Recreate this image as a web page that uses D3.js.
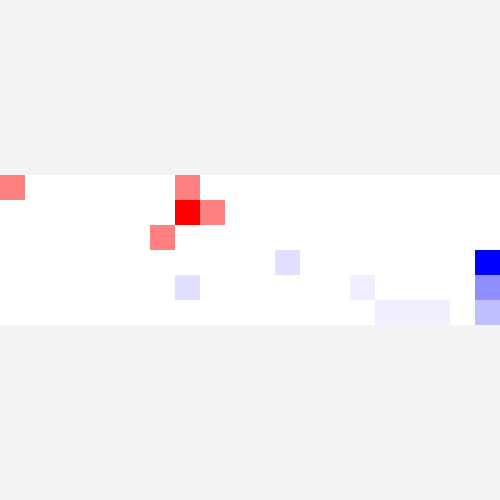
<!DOCTYPE html>
<html>
<head>
<meta charset="utf-8">
<script src="https://cdn.jsdelivr.net/npm/d3@7"></script>
<style>
html, body { margin: 0; padding: 0; background: #f3f3f3; }
svg { display: block; }
</style>
</head>
<body>
<svg id="chart" width="500" height="500"></svg>
<script>
const columns = d3.range(20).map(i => "c" + i);
const rows = ["r0", "r1", "r2", "r3", "r4", "r5"];
const row0 = [1,0,0,0,0,0,0,1,0,0,0,0,0,0,0,0,0,0,0,0];
const row1 = [0,0,0,0,0,0,0,2,1,0,0,0,0,0,0,0,0,0,0,0];
const row2 = [0,0,0,0,0,0,1,0,0,0,0,0,0,0,0,0,0,0,0,0];
const row3 = [0,0,0,0,0,0,0,0,0,0,0,-2,0,0,0,0,0,0,0,-16];
const row4 = [0,0,0,0,0,0,0,-2,0,0,0,0,0,0,-1,0,0,0,0,-7];
const row5 = [0,0,0,0,0,0,0,0,0,0,0,0,0,0,0,-1,-1,-1,0,-4];
const values = [row0, row1, row2, row3, row4, row5];

const W = 500, H = 500;
const bandTop = 175, bandH = 150;

const svg = d3.select("#chart");
svg.append("rect").attr("width", W).attr("height", H).attr("fill", "#f3f3f3");

const x = d3.scaleBand().domain(columns).range([0, W]);
const y = d3.scaleBand().domain(rows).range([bandTop, bandTop + bandH]);
const color = d3.scaleLinear().domain([-16, 0, 2]).range(["#0000ff", "#ffffff", "#ff0000"]).interpolate(d3.interpolateRgb);

const cells = [];
values.forEach((r, i) => r.forEach((v, j) => cells.push({row: rows[i], col: columns[j], v})));

svg.append("g").selectAll("rect").data(cells).join("rect")
  .attr("x", d => x(d.col))
  .attr("y", d => y(d.row))
  .attr("width", x.bandwidth())
  .attr("height", y.bandwidth())
  .attr("fill", d => color(d.v))
  .attr("shape-rendering", "crispEdges");
</script>
</body>
</html>
